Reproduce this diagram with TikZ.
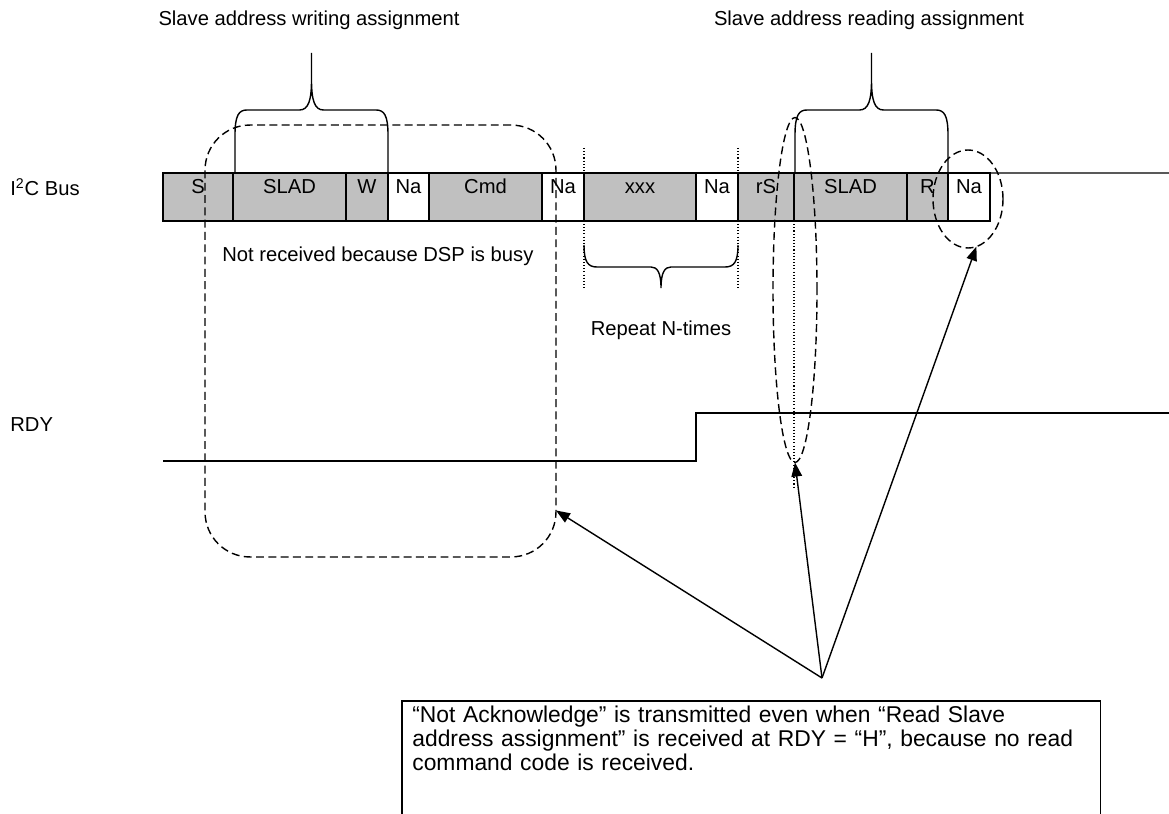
\documentclass[tikz,border=0pt]{standalone}
\usepackage{fontspec}
\setmainfont{Liberation Sans}
\usetikzlibrary{positioning,arrows.meta,shapes.geometric}
\definecolor{busgray}{RGB}{192,192,192}

\begin{document}
\begin{tikzpicture}[
    x=0.02cm, y=-0.02cm,
    font=\fontsize{11.5}{13.8}\selectfont,
    cell/.style={
        rectangle, draw=black, line width=0.8pt,
        fill=#1, inner sep=0pt, outer sep=0pt,
        minimum height=0.96cm, text height=0.41cm, text depth=0.55cm
    },
    cell/.default={busgray},
    sig/.style={line width=0.8pt, draw=black},
    ring/.style={draw=black, line width=0.8pt, dash pattern=on 4.5pt off 2.5pt,
        inner sep=0pt, outer sep=0pt},
    guide/.style={line width=0.6pt, dash pattern=on 0.6pt off 1.2pt},
    arrow/.style={-{Triangle[length=8pt, width=6pt]}, line width=0.8pt},
    lbl/.style={anchor=west, inner sep=0pt},
    notebox/.style={anchor=north west, inner xsep=0.2cm, inner ysep=2.5pt,
        text width=13.56cm, align=left,
        font=\fontsize{13}{13.6}\selectfont}
]
\clip (0,0) rectangle (1169,814);

% Dotted guides for the repeated part and the read start
\draw[guide] (584,148) -- (584,290);
\draw[guide] (738,148) -- (738,290);
\draw[guide] (794,221) -- (794,487);

% I2C bus frame cells
\foreach \a/\b/\t/\f [count=\i] in {163/233/S/busgray, 233/346/SLAD/busgray,
    346/388/W/busgray, 388/429/Na/white, 429/542/Cmd/busgray, 542/584/Na/white,
    584/696/xxx/busgray, 696/738/Na/white, 738/794/rS/busgray,
    794/907/SLAD/busgray, 907/948/R/busgray, 948/990/Na/white}
    \node[cell=\f, minimum width={(\b-\a)*0.02cm}] (c\i) at ({(\a+\b)/2},197) {\t};

\coordinate (busend) at (1169,173);
\draw[sig] (c12.north east) -- (busend);

% RDY signal
\coordinate (rdylow) at (163,461);
\coordinate (rdystep) at (696,461);
\coordinate (rdyend) at (1169,413);
\draw[sig] (rdylow) -- (rdystep) |- (rdyend);

% Signal names
\node[lbl] (buslbl) at (10,187) {I\textsuperscript{2}C Bus};
\node[lbl] (rdylbl) at (10,425) {RDY};

% Braces over the slave address parts
\foreach \l/\r in {235/388, 795/948} {
    \pgfmathsetmacro\m{(\l+\r)/2}
    \draw[sig] (\l,173) -- (\l,135) .. controls (\l,115) and ({\l+4},110) .. ({\l+12},110)
        -- ({\m-12},110) .. controls ({\m-3},110) and (\m,100) .. (\m,80) -- (\m,53)
        -- (\m,80) .. controls (\m,100) and ({\m+3},110) .. ({\m+12},110)
        -- ({\r-12},110) .. controls ({\r-4},110) and (\r,115) .. (\r,135) -- (\r,173);
}
\node (wrhead) at (309,20) {Slave address writing assignment};
\node (rdhead) at (869,20) {Slave address reading assignment};

% Brace under the repeated part
\draw[sig] (584,245) .. controls (584,262) and (588,267) .. (597,267) -- (651,267)
    .. controls (657,267) and (661,272) .. (661,288)
    .. controls (661,272) and (665,267) .. (671,267) -- (725,267)
    .. controls (734,267) and (738,262) .. (738,245);
\node (repeat) at (661,330) {Repeat N-times};

% Dashed marks
\node[ring, rectangle, rounded corners=0.9cm, minimum width=7.02cm,
    minimum height=8.64cm] (busy) at (380.5,341) {};
\node[lbl] (busytext) at (222,256) {Not received because DSP is busy};
\node[ring, ellipse, minimum width=0.88cm, minimum height=6.9cm] (rsring) at (795,290) {};
\node[ring, ellipse, minimum width=1.4cm, minimum height=1.96cm] (naring) at (968,199) {};

% Note and pointers
\coordinate (apex) at (822,678);
\draw[arrow] (apex) -- (busy.-44);
\draw[arrow] (apex) -- (rsring.south);
\draw[arrow] (apex) -- (naring.-80);

\node[notebox] (note) at (402,701) {“Not Acknowledge” is transmitted even when “Read Slave\\
    address assignment” is received at RDY = “H”, because no read\\
    command code is received.};
\draw[sig] ([yshift=-3cm]note.north west) -- (note.north west) -- (note.north east)
    -- ([yshift=-3cm]note.north east);

\end{tikzpicture}
\end{document}
